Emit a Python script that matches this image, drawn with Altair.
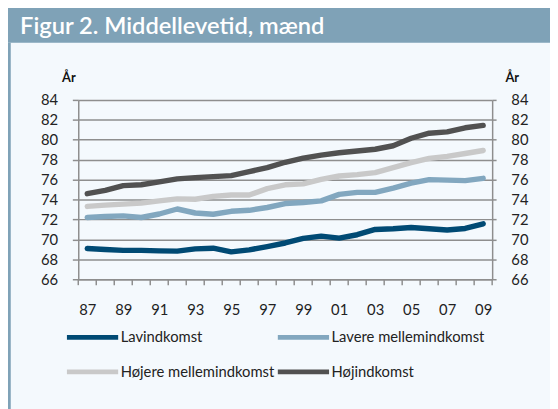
import altair as alt
import pandas as pd

title_text = "Figur 2. Middellevetid, mænd"
years = list(range(1987, 2010))
series = ["Lavindkomst", "Lavere mellemindkomst", "Højere mellemindkomst", "Højindkomst"]
colors = ["#004a74", "#82a7bf", "#c9c9c9", "#515151"]

lav = [69.08, 68.98, 68.9, 68.9, 68.85, 68.82, 69.05, 69.12, 68.75, 68.95, 69.28, 69.64,
       70.1, 70.33, 70.13, 70.47, 71.0, 71.07, 71.2, 71.07, 70.95, 71.1, 71.57]
lavere = [72.2, 72.3, 72.36, 72.2, 72.55, 73.05, 72.65, 72.52, 72.82, 72.92, 73.2, 73.6,
          73.7, 73.87, 74.52, 74.72, 74.72, 75.15, 75.64, 76.0, 75.95, 75.9, 76.13]
hojere = [73.31, 73.44, 73.54, 73.64, 73.87, 74.07, 74.03, 74.32, 74.46, 74.46, 75.1, 75.48,
          75.57, 76.03, 76.36, 76.5, 76.7, 77.2, 77.7, 78.13, 78.33, 78.62, 78.92]
hoj = [74.59, 74.92, 75.4, 75.48, 75.77, 76.07, 76.2, 76.3, 76.4, 76.8, 77.2, 77.74,
       78.16, 78.46, 78.69, 78.87, 79.05, 79.4, 80.15, 80.66, 80.79, 81.2, 81.44]
y_ticks = list(range(66, 86, 2))
x_label_years = years[::2]

rows = []
for name, vals in zip(series, [lav, lavere, hojere, hoj]):
    for yr, v in zip(years, vals):
        rows.append({"year": yr, "value": v, "serie": name})
df = pd.DataFrame(rows)

bounds = pd.DataFrame({"b": [y - 0.5 for y in years] + [years[-1] + 0.5]})

FONT = "Lato"
GRID = "#8e8e8e"
BG = "#f4f9fd"
BAR = "#7fa2b7"

xscale = alt.Scale(domain=[years[0] - 0.5, years[-1] + 0.5], nice=False, zero=False)
yscale = alt.Scale(domain=[66, 84], nice=False, zero=False)

x_axis = alt.Axis(values=x_label_years, title=None, ticks=False, grid=False,
                  labelExpr="substring(toString(datum.value), 2, 4)",
                  labelFont=FONT, labelFontSize=15, labelColor="#222222",
                  labelPadding=24, labelBaseline="top",
                  domainColor=GRID, domainWidth=1.5, labelFlush=False)

left_axis = alt.Axis(values=y_ticks, title="År", titleAngle=0, titleX=-17, titleY=-19,
                     titleAlign="left", titleBaseline="alphabetic", titleFont=FONT,
                     titleFontSize=13, titleFontWeight="bold", titleColor="#111111",
                     labelFont=FONT, labelFontSize=15, labelColor="#222222",
                     labelPadding=15, tickSize=6, tickColor=GRID, tickWidth=1.5,
                     domainColor=GRID, domainWidth=1.5,
                     grid=True, gridColor=GRID, gridWidth=1.5, orient="left")

right_axis = alt.Axis(values=y_ticks, title="År", titleAngle=0, titleX=13, titleY=-19,
                      titleAlign="left", titleBaseline="alphabetic", titleFont=FONT,
                      titleFontSize=13, titleFontWeight="bold", titleColor="#111111",
                      labelFont=FONT, labelFontSize=15, labelColor="#222222",
                      labelPadding=15, tickSize=4, tickColor=GRID, tickWidth=1.5,
                      domainColor=GRID, domainWidth=1.5,
                      grid=False, orient="right")

one = pd.DataFrame({"t": [title_text]})

title_bar = alt.Chart(one).mark_rect(color=BAR).encode(
    x=alt.value(-90), x2=alt.value(520), y=alt.value(-100), y2=alt.value(-58))
stripe = alt.Chart(one).mark_rect(color=BAR).encode(
    x=alt.value(-71.5), x2=alt.value(-68.5), y=alt.value(-58), y2=alt.value(340))
title = alt.Chart(one).mark_text(align="left", baseline="alphabetic", font=FONT,
                                 fontWeight=600, fontSize=24, color="white").encode(
    x=alt.value(-59), y=alt.value(-67), text="t:N")

tick_rules = alt.Chart(bounds).mark_rule(color=GRID, strokeWidth=1.5).encode(
    x=alt.X("b:Q", scale=xscale, axis=x_axis), y=alt.value(182), y2=alt.value(188))

lines = alt.Chart(df).mark_line(strokeWidth=5.5, strokeCap="round", strokeJoin="round").encode(
    x=alt.X("year:Q", scale=xscale, axis=x_axis),
    y=alt.Y("value:Q", scale=yscale, axis=left_axis),
    color=alt.Color("serie:N", scale=alt.Scale(domain=series, range=colors),
                    legend=alt.Legend(title=None, orient="none", legendX=-14, legendY=231,
                                      direction="horizontal",
                                      columns=2, columnPadding=-12, rowPadding=15,
                                      clipHeight=20,
                                      symbolType="stroke", symbolSize=2704,
                                      symbolStrokeWidth=5, labelFont=FONT,
                                      labelFontSize=15, labelColor="#222222",
                                      labelOffset=0)),
    order=alt.value(0))

right = alt.Chart(df).mark_line(opacity=0).encode(
    x=alt.X("year:Q", scale=xscale, axis=x_axis),
    y=alt.Y("value:Q", scale=yscale, axis=right_axis),
    detail="serie:N")

chart = alt.layer(title_bar, stripe, title, tick_rules, lines, right).resolve_axis(
    y="independent").properties(
    width=420, height=182,
    autosize=alt.AutoSizeParams(type="none"),
    padding={"left": 71.3, "top": 90.3, "right": 58.7, "bottom": 128.7},
    background=BG,
).configure_view(stroke=None)

chart.save("out.html", embed_options={"renderer": "svg", "actions": False})
